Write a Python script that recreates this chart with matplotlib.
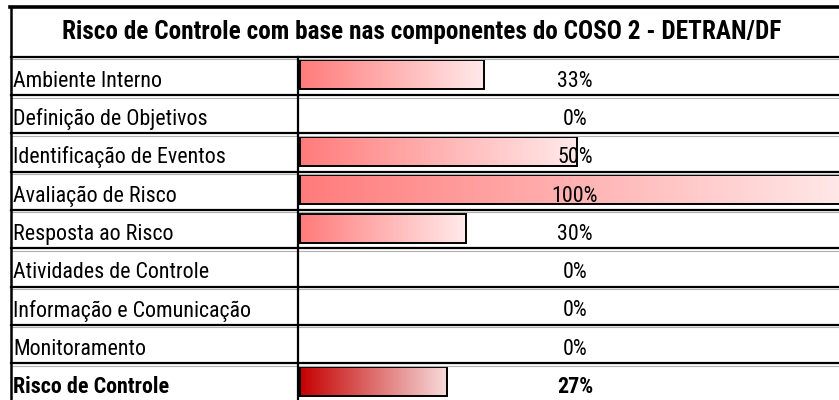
import numpy as np
import matplotlib
matplotlib.use("Agg")
import matplotlib.pyplot as plt
from matplotlib.colors import LinearSegmentedColormap
from matplotlib.font_manager import fontManager, FontProperties
from matplotlib.textpath import TextPath

TITLE = "Risco de Controle com base nas componentes do COSO 2 - DETRAN/DF"
components = ["Ambiente Interno", "Definição de Objetivos", "Identificação de Eventos",
              "Avaliação de Risco", "Resposta ao Risco", "Atividades de Controle",
              "Informação e Comunicação", "Monitoramento"]
values = [33.3, 0, 50, 100, 30, 0, 0, 0]
total_label = "Risco de Controle"
total_value = np.mean(values)

# layout in pixels
W, H = 839, 400
DPI = 100
TOP = 56.7
ROW_H = 38.3
COL_X = 298
BAR_X0 = 300
PX_PER_PCT = 5.53
BAR_H = 29
BASELINE = 30  # text baseline below row top


def measure(prop, s):
    w = TextPath((0, 0), s, size=100, prop=prop).get_extents().width
    cap = TextPath((0, 0), "H", size=100, prop=prop).get_extents().height
    return w / cap, cap / 100


# the original uses a narrow font (Calibri squeezed), pick the narrowest sans we have
prefixes = ("Liberation Sans", "DejaVu Sans", "Noto Sans", "Roboto", "Open Sans", "Lato", "Inter", "Carlito")
cands = sorted({(f.name, f.stretch) for f in fontManager.ttflist
                if f.name.startswith(prefixes) and "Mono" not in f.name and "CJK" not in f.name},
               key=str)
target = 148 / 16.0
best = None
for name, stretch in cands:
    prop = FontProperties(family=name, stretch=stretch)
    try:
        r, _ = measure(prop, "Ambiente Interno")
    except Exception:
        continue
    if not np.isfinite(r) or r <= 0:
        continue
    if best is None or abs(r - target) < abs(best[0] - target):
        best = (r, name, stretch)
if best is None:
    best = (0, "DejaVu Sans", "normal")
FAMILY, STRETCH = best[1], best[2]


def size_for(s, width_px, cap_max, weight='normal'):
    prop = FontProperties(family=FAMILY, stretch=STRETCH, weight=weight)
    r, cap_ratio = measure(prop, s)
    cap_px = min(width_px / r, cap_max)
    return cap_px / cap_ratio * 72 / DPI


LABEL_SIZE = size_for("Ambiente Interno", 148, 16.5)
TITLE_SIZE = size_for(TITLE, 729, 18, weight='bold')
font = dict(family=FAMILY, stretch=STRETCH)

fig = plt.figure(figsize=(W / DPI, H / DPI), dpi=DPI)
ax = fig.add_axes([0, 0, 1, 1])

cmap_row = LinearSegmentedColormap.from_list("row", ["#ff7b7b", "#ffeaea"])
cmap_tot = LinearSegmentedColormap.from_list("tot", ["#c50000", "#f7dcdc"])
grad = np.linspace(0, 1, 256).reshape(1, -1)

labels = components + [total_label]
vals = values + [total_value]
tops = [TOP + i * ROW_H for i in range(len(labels))]

for i, (lab, v, yt) in enumerate(zip(labels, vals, tops)):
    bold = i == len(labels) - 1
    yc = yt + ROW_H / 2 - 1
    w = v * PX_PER_PCT
    if w > 0:
        ax.imshow(grad, extent=[BAR_X0, BAR_X0 + w, yc + BAR_H / 2, yc - BAR_H / 2],
                  cmap=cmap_tot if bold else cmap_row, aspect='auto', zorder=1)
        ax.barh(yc, w, height=BAR_H, left=BAR_X0, fill=False, edgecolor='black',
                linewidth=1.4, zorder=2)
    ax.text(13, yt + BASELINE, lab, fontsize=LABEL_SIZE, va='baseline', ha='left',
            fontweight='bold' if bold else 'normal', zorder=3, **font)
    ax.text(575, yt + BASELINE, f"{v:.0f}%", fontsize=LABEL_SIZE, va='baseline', ha='center',
            fontweight='bold' if bold else 'normal', zorder=3, **font)

ax.text(422, 39, TITLE, fontsize=TITLE_SIZE, fontweight='bold', ha='center', va='baseline', **font)

# table grid
for k in range(len(labels) + 1):
    y = TOP + k * ROW_H
    ax.plot([11, W], [y + 2.5, y + 2.5], color='#b0b0b0', lw=0.8, zorder=4)
    ax.plot([11, W], [y, y], color='black', lw=1.6, zorder=5)
ax.plot([10, W], [7, 7], color='black', lw=2.6, zorder=5)
ax.plot([11, 11], [7, H], color='black', lw=1.8, zorder=5)
ax.plot([COL_X, COL_X], [TOP, H], color='black', lw=1.6, zorder=5)

ax.set_xlim(0, W)
ax.set_ylim(H, 0)
ax.axis('off')

fig.savefig("out.png", dpi=DPI)
